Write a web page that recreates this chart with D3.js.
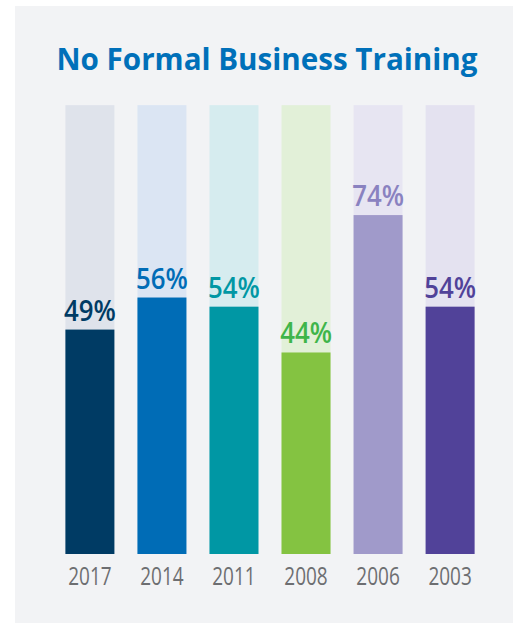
<!DOCTYPE html>
<html>
<head>
<meta charset="utf-8">
<script src="https://cdn.jsdelivr.net/npm/d3@7"></script>
<style>
body { margin: 0; background: #fff; }
svg { display: block; }
</style>
</head>
<body>
<svg id="chart" width="514" height="623"></svg>
<script>
var years = ['2017', '2014', '2011', '2008', '2006', '2003'];
var values = [49, 56, 54, 44, 74, 54];
var barColours = ['#003b64', '#006cb6', '#0097a4', '#84c341', '#a09aca', '#514299'];
var trackColours = ['#dfe3eb', '#dbe5f3', '#d6ecef', '#e2f0d8', '#e7e5f2', '#e4e2f0'];
var labelColours = ['#003b64', '#006cb6', '#0097a4', '#3fb54a', '#8a82c0', '#514299'];
var trackMax = 98;

var svg = d3.select('#chart');

svg.append('rect')
	.attr('x', 15).attr('y', 6)
	.attr('width', 498).attr('height', 617)
	.attr('fill', '#f2f3f5');

svg.append('text')
	.attr('x', 267).attr('y', 70)
	.attr('text-anchor', 'middle')
	.attr('font-family', 'Open Sans, sans-serif')
	.attr('font-weight', 700)
	.attr('font-size', 29.6)
	.attr('fill', '#0070b9')
	.text('No Formal Business Training');

var x = d3.scaleBand().domain(years).range([51, 489]).paddingInner(0.32).paddingOuter(0.2);
var y = d3.scaleLinear().domain([0, 100]).range([554, 96]);

var data = years.map((d, i) => ({ year: d, value: values[i], i: i }));

var g = svg.append('g');

g.selectAll('rect.track').data(data).enter().append('rect')
	.attr('class', 'track')
	.attr('x', d => x(d.year))
	.attr('width', x.bandwidth())
	.attr('y', y(trackMax))
	.attr('height', y(0) - y(trackMax))
	.attr('fill', d => trackColours[d.i]);

g.selectAll('rect.bar').data(data).enter().append('rect')
	.attr('class', 'bar')
	.attr('x', d => x(d.year))
	.attr('width', x.bandwidth())
	.attr('y', d => y(d.value))
	.attr('height', d => y(0) - y(d.value))
	.attr('fill', d => barColours[d.i]);

// the original face is a narrow one, so squeeze Open Sans sideways
g.selectAll('text.val').data(data).enter().append('text')
	.attr('class', 'val')
	.attr('transform', d => 'translate(' + (x(d.year) + x.bandwidth() / 2) + ',' + (y(d.value) - 9) + ') scale(0.89,1)')
	.attr('text-anchor', 'middle')
	.attr('font-family', 'Open Sans, sans-serif')
	.attr('font-weight', 600)
	.attr('font-size', 29)
	.attr('fill', d => labelColours[d.i])
	.text(d => d.value + '%');

var axis = d3.axisBottom(x).tickSize(0).tickPadding(0);
var ax = svg.append('g').attr('transform', 'translate(0,585)').call(axis);
ax.select('.domain').remove();
ax.selectAll('text')
	.attr('dy', 0)
	.attr('transform', 'scale(0.76,1)')
	.attr('font-family', 'Open Sans, sans-serif')
	.attr('font-size', 25)
	.attr('fill', '#6d6e71');
</script>
</body>
</html>
